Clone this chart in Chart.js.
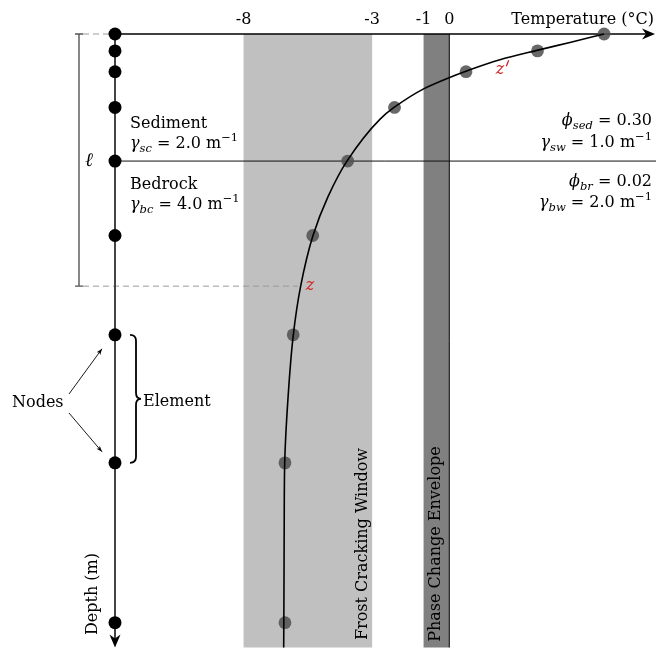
<!DOCTYPE html>
<html><head><meta charset="utf-8">
<script src="https://cdn.jsdelivr.net/npm/chart.js@4"></script>
<style>html,body{margin:0;padding:0;background:#fff}canvas{display:block}</style>
</head><body>
<canvas id="c" width="667" height="654"></canvas>
<script>
// ---- data ----
const xTicks = [-8, -3, -1, 0];
const nodeDepths = [0, 0.17, 0.38, 0.74, 1.28, 2.03, 3.03, 4.32, 5.93];
const sampleTemps = [6.02, 3.43, 0.65, -2.13, -3.95, -5.31, -6.07, -6.39, -6.39];
const curveDepths = [0, 0.085, 0.165, 0.26, 0.375, 0.44, 0.55, 0.74, 0.86, 1.28, 1.64, 2.03, 2.54, 3.04, 3.66, 4.32, 4.96, 5.66, 6.18];
const curveTemps  = [6.02, 4.69, 3.41, 1.97, 0.65, -0.01, -0.98, -2.15, -2.70, -3.98, -4.72, -5.30, -5.78, -6.07, -6.27, -6.40, -6.42, -6.43, -6.44];
const frostWindow = [-8, -3];
const phaseEnvelope = [-1, 0];
const interfaceDepth = 1.28;
const zDepth = 2.54;
const zPrimeDepth = 0.36;
const elementDepths = [3.03, 4.32];
const depthAxisTemp = -13;
const tempMax = 8;
const depthMax = 6.18;

const F = '"DejaVu Serif", serif';
const BASE = 16;
function fnt(size, italic){ return (italic ? 'italic ' : '') + size + 'px ' + F; }
function rich(ctx, parts, x, y, align){
  const S = BASE, s = 11.5;
  const segs = parts.map(([t, k]) => {
    let f, dy = 0;
    if (k === 'r') f = fnt(S, false);
    else if (k === 'i') f = fnt(S, true);
    else if (k === 'sub') { f = fnt(s, true); dy = 4; }
    else { f = fnt(s, false); dy = -7; }
    ctx.font = f;
    return { t, f, dy, w: ctx.measureText(t).width };
  });
  const W = segs.reduce((a, b) => a + b.w, 0);
  let cx = align === 'right' ? x - W : x;
  ctx.textAlign = 'left'; ctx.textBaseline = 'alphabetic';
  for (const g of segs) { ctx.font = g.f; ctx.fillText(g.t, cx, y + g.dy); cx += g.w; }
}
function stealth(ctx, x, y, ang, L, H, notch, color){
  ctx.save(); ctx.translate(x, y); ctx.rotate(ang);
  ctx.fillStyle = color;
  ctx.beginPath(); ctx.moveTo(0, 0); ctx.lineTo(-L, -H); ctx.lineTo(-L + notch, 0); ctx.lineTo(-L, H); ctx.closePath(); ctx.fill();
  ctx.restore();
}
function arrowLine(ctx, x1, y1, x2, y2){
  ctx.beginPath(); ctx.moveTo(x1, y1); ctx.lineTo(x2, y2); ctx.stroke();
  const a = Math.atan2(y2 - y1, x2 - x1);
  stealth(ctx, x2, y2, a, 6, 2.2, 1.5, '#000');
}
function rotText(ctx, txt, x, y){
  ctx.save(); ctx.translate(x, y); ctx.rotate(-Math.PI / 2);
  ctx.textAlign = 'center'; ctx.textBaseline = 'alphabetic';
  ctx.fillText(txt, 0, 0); ctx.restore();
}

const deco = {
  id: 'deco',
  beforeDatasetsDraw(chart){
    const ctx = chart.ctx, xs = chart.scales.x, ys = chart.scales.y, ca = chart.chartArea;
    ctx.save();
    const top = ys.getPixelForValue(0), bot = ca.bottom;
    // bands
    ctx.fillStyle = '#c0c0c0';
    let a = xs.getPixelForValue(frostWindow[0]), b = xs.getPixelForValue(frostWindow[1]);
    ctx.fillRect(a, top, b - a, bot - top);
    ctx.fillStyle = '#808080';
    a = xs.getPixelForValue(phaseEnvelope[0]); b = xs.getPixelForValue(phaseEnvelope[1]);
    ctx.fillRect(a, top, b - a, bot - top);
    // zero line
    ctx.strokeStyle = '#000'; ctx.lineWidth = 1;
    ctx.beginPath(); ctx.moveTo(b, top); ctx.lineTo(b, bot); ctx.stroke();
    // band labels
    ctx.fillStyle = '#000'; ctx.font = fnt(BASE, false);
    rotText(ctx, 'Frost Cracking Window', 367, 544);
    rotText(ctx, 'Phase Change Envelope', 440, 544);
    const x0 = xs.getPixelForValue(depthAxisTemp);
    // interface line
    const yi = ys.getPixelForValue(interfaceDepth);
    ctx.strokeStyle = '#111'; ctx.lineWidth = 1;
    ctx.beginPath(); ctx.moveTo(x0, yi); ctx.lineTo(656, yi); ctx.stroke();
    // ell bracket
    const yz = ys.getPixelForValue(zDepth);
    ctx.strokeStyle = '#555'; ctx.lineWidth = 1.4;
    ctx.beginPath(); ctx.moveTo(79, top); ctx.lineTo(79, yz);
    ctx.moveTo(75, top); ctx.lineTo(83, top);
    ctx.moveTo(75, yz); ctx.lineTo(83, yz); ctx.stroke();
    ctx.strokeStyle = '#999'; ctx.lineWidth = 1; ctx.setLineDash([6, 4]);
    ctx.beginPath(); ctx.moveTo(83, top); ctx.lineTo(x0, top);
    ctx.moveTo(83, yz); ctx.lineTo(298, yz); ctx.stroke();
    ctx.setLineDash([]);
    // top temperature axis
    ctx.strokeStyle = '#000'; ctx.lineWidth = 1.5;
    ctx.beginPath(); ctx.moveTo(x0, top); ctx.lineTo(650, top); ctx.stroke();
    stealth(ctx, 655, top, 0, 13, 5.5, 4, '#000');
    // depth axis
    ctx.strokeStyle = '#444'; ctx.lineWidth = 2;
    ctx.beginPath(); ctx.moveTo(x0, top); ctx.lineTo(x0, bot - 4); ctx.stroke();
    stealth(ctx, x0, bot, Math.PI / 2, 13, 5.5, 4, '#000');
    ctx.restore();
  },
  afterDatasetsDraw(chart){
    const ctx = chart.ctx, xs = chart.scales.x, ys = chart.scales.y;
    ctx.save();
    ctx.fillStyle = '#000';
    // tick labels
    ctx.font = fnt(BASE, false); ctx.textAlign = 'center'; ctx.textBaseline = 'alphabetic';
    for (const t of xTicks) ctx.fillText(String(t), xs.getPixelForValue(t), 24);
    ctx.textAlign = 'right';
    ctx.fillText('Temperature (°C)', 654, 24);
    // layer labels
    ctx.textAlign = 'left';
    ctx.fillText('Sediment', 130, 128);
    rich(ctx, [['γ', 'i'], ['sc', 'sub'], [' = 2.0 m', 'r'], ['−1', 'sup']], 130, 148, 'left');
    ctx.font = fnt(BASE, false);
    ctx.fillText('Bedrock', 130, 189);
    rich(ctx, [['γ', 'i'], ['bc', 'sub'], [' = 4.0 m', 'r'], ['−1', 'sup']], 130, 209, 'left');
    rich(ctx, [['ϕ', 'i'], ['sed', 'sub'], [' = 0.30', 'r']], 652, 125, 'right');
    rich(ctx, [['γ', 'i'], ['sw', 'sub'], [' = 1.0 m', 'r'], ['−1', 'sup']], 652, 147, 'right');
    rich(ctx, [['ϕ', 'i'], ['br', 'sub'], [' = 0.02', 'r']], 652, 186, 'right');
    rich(ctx, [['γ', 'i'], ['bw', 'sub'], [' = 2.0 m', 'r'], ['−1', 'sup']], 652, 207, 'right');
    // ell
    ctx.font = fnt(19, true); ctx.textAlign = 'center'; ctx.textBaseline = 'middle';
    ctx.fillText('ℓ', 89, 161);
    // z labels
    ctx.fillStyle = '#d42020'; ctx.strokeStyle = '#d42020';
    ctx.font = fnt(BASE, true);
    const zpY = ys.getPixelForValue(zPrimeDepth);
    ctx.fillText('z', 500, zpY);
    ctx.lineWidth = 1.3; ctx.lineCap = 'round';
    ctx.beginPath(); ctx.moveTo(508.5, zpY - 9); ctx.lineTo(506.5, zpY - 4); ctx.stroke();
    ctx.lineCap = 'butt';
    ctx.fillText('z', 310, ys.getPixelForValue(zDepth));
    // depth label
    ctx.fillStyle = '#000'; ctx.font = fnt(BASE, false);
    rotText(ctx, 'Depth (m)', 97, 594);
    // nodes / element annotation
    ctx.textAlign = 'left'; ctx.textBaseline = 'alphabetic';
    ctx.fillText('Nodes', 12, 407);
    ctx.fillText('Element', 143, 406);
    const e1 = ys.getPixelForValue(elementDepths[0]), e2 = ys.getPixelForValue(elementDepths[1]);
    ctx.strokeStyle = '#000'; ctx.lineWidth = 0.9;
    arrowLine(ctx, 69, 394, 102, e1 + 14);
    arrowLine(ctx, 69, 413, 102, e2 - 11);
    // brace
    const mid = (e1 + e2) / 2;
    ctx.lineWidth = 1.8;
    ctx.beginPath();
    ctx.moveTo(130, e1);
    ctx.quadraticCurveTo(136, e1, 136, e1 + 6);
    ctx.lineTo(136, mid - 6);
    ctx.quadraticCurveTo(136, mid, 141, mid);
    ctx.quadraticCurveTo(136, mid, 136, mid + 6);
    ctx.lineTo(136, e2 - 6);
    ctx.quadraticCurveTo(136, e2, 130, e2);
    ctx.stroke();
    ctx.restore();
  }
};

new Chart(document.getElementById('c'), {
  type: 'scatter',
  data: {
    datasets: [
      {
        label: 'profile',
        data: curveTemps.map((t, i) => ({ x: t, y: curveDepths[i] })),
        showLine: true, borderColor: '#000', borderWidth: 1.6, pointRadius: 0,
        cubicInterpolationMode: 'monotone', clip: false
      },
      {
        label: 'samples',
        data: sampleTemps.map((t, i) => ({ x: t, y: nodeDepths[i] })),
        backgroundColor: 'rgba(83,83,83,0.88)', borderWidth: 0, pointRadius: 6.4, clip: false
      },
      {
        label: 'nodes',
        data: nodeDepths.map(d => ({ x: depthAxisTemp, y: d })),
        backgroundColor: '#000', borderWidth: 0, pointRadius: 6.5, clip: false
      }
    ]
  },
  options: {
    indexAxis: 'y',
    responsive: false, animation: false, devicePixelRatio: 1,
    layout: { padding: { left: 115, right: 12, top: 34, bottom: 2 } },
    plugins: { legend: { display: false }, tooltip: { enabled: false } },
    scales: {
      x: { type: 'linear', min: depthAxisTemp, max: tempMax, display: false },
      y: { type: 'linear', min: 0, max: depthMax, reverse: true, display: false }
    }
  },
  plugins: [deco]
});
</script>
</body></html>
